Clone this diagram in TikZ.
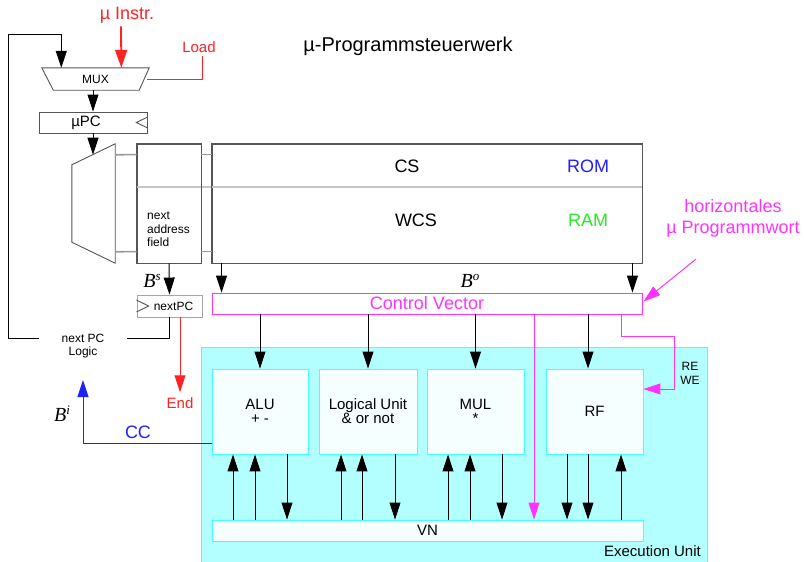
\documentclass[tikz,border=0pt]{standalone}
\usepackage{fontspec}
\setmainfont{Liberation Sans}
\newfontfamily\tms{Liberation Serif}
\usetikzlibrary{arrows.meta,calc}
\definecolor{mag}{HTML}{FF33FF}
\definecolor{cyanfill}{HTML}{B3FFFF}
\definecolor{cyanline}{HTML}{44FFFF}
\definecolor{unitfill}{HTML}{F5FFFF}
\definecolor{ramgreen}{HTML}{22EE22}
\definecolor{ccblue}{HTML}{1F1FFF}
\definecolor{edge}{HTML}{555555}
\definecolor{lred}{HTML}{FF2222}
\newcommand{\Bsym}[1]{{\tms\itshape\fontsize{20}{20}\selectfont B\raisebox{7pt}{\fontsize{13}{13}\selectfont #1}}}
\begin{document}
\begin{tikzpicture}[x=1pt,y=-1pt,
  box/.style={draw=edge,line width=0.9pt,inner sep=0pt,fill=white},
  unit/.style={draw=cyanline,line width=0.9pt,fill=unitfill,inner sep=0pt,minimum height=85pt,font=\fontsize{15}{14}\selectfont,align=center},
  tip/.style={-{Triangle[length=17pt,width=11pt]}},
  arr/.style={line width=1pt,tip},
  ln/.style={line width=0.9pt},
  fT/.style={font=\fontsize{20}{23}\selectfont},
  fA/.style={font=\fontsize{18}{21}\selectfont},
  fB/.style={font=\fontsize{15}{17}\selectfont},
  fC/.style={font=\fontsize{12}{13.5}\selectfont},
  lbl/.style={inner sep=0pt}]
\useasboundingbox (0,0) rectangle (804,562);

% ---------- execution unit ----------
\node[draw=cyanline,fill=cyanfill,line width=0.9pt,minimum width=506pt,minimum height=222pt,inner sep=0pt] (eu) at (454,458) {};
\node[lbl,fB,anchor=east] (eulbl) at (701,551) {Execution Unit};

\node[unit,minimum width=96pt] (alu) at (260,411.5) {ALU\\+ -};
\node[unit,minimum width=98pt] (lu) at (368,411.5) {Logical Unit\\\& or not};
\node[unit,minimum width=97pt] (mul) at (475.5,411.5) {MUL\\*};
\node[unit,minimum width=97pt] (rf) at (594.5,411.5) {RF};
\node[draw=cyanline,fill=unitfill,line width=0.9pt,inner sep=0pt,minimum width=431pt,minimum height=21pt,fB] (vn) at (427.5,530.5) {VN};

% ---------- title ----------
\node[lbl,fT] (title) at (408,46) {µ-Programmsteuerwerk};

% ---------- MUX ----------
\node[lbl,minimum width=107pt,minimum height=22pt,fC] (mux) at (95.5,79) {MUX};
\draw[box,fill=none] (mux.north west) -- (mux.north east) -- ($(mux.south east)+(-10,0)$) -- ($(mux.south west)+(11.5,0)$) -- cycle;
\node[lbl,fA,text=lred] (instr) at (127,15) {µ Instr.};
\node[lbl,fB,text=lred] (load) at (199,47) {Load};
\coordinate (muxin1) at ($(mux.north west)+(19.5,0)$);
\coordinate (muxin2) at ($(mux.north west)+(79.5,0)$);
\coordinate (muxr) at ($(mux.east)+(-2.5,0)$);
\draw[lred,line width=1.8pt,-{Triangle[length=18pt,width=12pt]}] ($(instr.south)+(-6,3)$) -- (muxin2);
\draw[ln,lred] (muxr) -| ($(load.south)+(3,3)$);

% ---------- uPC ----------
\node[box,minimum width=108pt,minimum height=21pt,fB] (upc) at (93,122.5) {\hspace*{-14pt}µPC};
\draw[ln,edge] ($(upc.north east)+(0,5.5)$) -- ($(upc.east)+(-11,0)$) -- ($(upc.south east)+(0,-5.5)$);
\draw[arr] (mux.south -| upc.north) -- (upc.north);

% ---------- decoder, next address field, CS ----------
\node[lbl,minimum width=43pt,minimum height=119pt] (dec) at (93.5,203.5) {};
\draw[box,fill=none] ($(dec.north west)+(0,21)$) -- (dec.north east) -- (dec.south east) -- ($(dec.south west)+(0,-21)$) -- cycle;
\coordinate (decin) at (93,154.7);
\draw[arr] (upc.south) -- (decin);

\node[box,minimum width=64pt,minimum height=119pt] (naf) at (169,203.5) {};
\node[box,minimum width=430pt,minimum height=119pt] (cs) at (427,203.5) {};
\draw[gray!45,line width=1.4pt] ($(naf.west)+(0,-16.5)$) -- ($(cs.east)+(0,-16.5)$);
\draw[box,fill=none] (naf.north west) rectangle (naf.south east);
\draw[box,fill=none] (cs.north west) rectangle (cs.south east);
\foreach \dy in {11,108}{
  \draw[gray!80,line width=1.6pt] ($(dec.north east)+(0,\dy)$) -- ($(naf.north west)+(0,\dy)$);
  \draw[gray!80,line width=1.6pt] ($(naf.north east)+(0,\dy)$) -- ($(cs.north west)+(0,\dy)$);
}
\node[lbl,fC,align=left,anchor=north west] (naftxt) at (147,212) {next\\address\\field};
\node[lbl,fA] (cstxt) at (407,166) {CS};
\node[lbl,fA] (wcstxt) at (416,220) {WCS};
\node[lbl,fA,text=ccblue] (rom) at (588,166) {ROM};
\node[lbl,fA,text=ramgreen] (ram) at (588,220) {RAM};

% ---------- control vector ----------
\node[draw=mag,line width=0.9pt,inner sep=0pt,minimum width=430pt,minimum height=21pt,fill=white,fA,text=mag] (cv) at (427,303.5) {Control Vector};
\node[lbl] (bo) at (470,281) {\Bsym{o}};
\draw[arr] ($(cs.south west)+(10,0)$) -- ($(cv.north west)+(10,0)$);
\draw[arr] ($(cs.south east)+(-10,0)$) -- ($(cv.north east)+(-10,0)$);

\node[lbl,fA,text=mag,align=center] (horiz) at (733,218) {horizontales\\µ Programmwort};
\draw[line width=1pt,mag,tip] ($(horiz.south)+(-37,22)$) -- ($(cv.east)+(1,-2)$);

% control lines to units
\draw[arr] (cv.south -| alu.north) -- (alu.north);
\draw[arr] (cv.south -| lu.north) -- (lu.north);
\draw[arr] (cv.south -| mul.north) -- (mul.north);
\draw[arr] ($(cv.south -| rf.north)+(-6.5,0)$) -- ($(rf.north)+(-6.5,0)$);
\coordinate (magx) at (534,0);
\draw[line width=1pt,mag,tip] (cv.south -| magx) -- (vn.north -| magx);
\coordinate (rewx) at (621,0);
\draw[line width=1pt,mag,tip] (cv.south -| rewx) -- (621,336) -- (674,336) -- (674,389) -- (rf.east |- 0,389);
\node[lbl,fC,align=center] (rewe) at (690,373.5) {RE\\WE};

% ---------- unit <-> VN arrows ----------
\foreach \x in {233,255}{ \draw[arr] (vn.north -| \x,0) -- (alu.south -| \x,0); }
\draw[arr] (alu.south -| 287,0) -- (vn.north -| 287,0);
\foreach \x in {341,362}{ \draw[arr] (vn.north -| \x,0) -- (lu.south -| \x,0); }
\draw[arr] (lu.south -| 395,0) -- (vn.north -| 395,0);
\foreach \x in {448,470}{ \draw[arr] (vn.north -| \x,0) -- (mul.south -| \x,0); }
\draw[arr] (mul.south -| 502,0) -- (vn.north -| 502,0);
\foreach \x in {567,588}{ \draw[arr] (rf.south -| \x,0) -- (vn.north -| \x,0); }
\draw[arr] (vn.north -| 621,0) -- (rf.south -| 621,0);

% ---------- nextPC ----------
\node[draw=gray!70,line width=0.9pt,inner sep=0pt,minimum width=65pt,minimum height=22pt,fill=white,fC] (npc) at (169.5,306) {\hspace*{8pt}nextPC};
\draw[ln,edge] ($(npc.north west)+(0,5.5)$) -- ($(npc.west)+(12,0)$) -- ($(npc.south west)+(0,-5.5)$);
\node[lbl] (bs) at (152,281) {\Bsym{s}};
\draw[arr] (naf.south) -- (npc.north);

\node[lbl,fC,align=center] (npl) at (83,346) {next PC\\Logic};
\coordinate (fbA) at (127,338);
\coordinate (fbB) at (39,338);
\draw[ln] ($(npc.south)+(-0.5,0)$) |- (fbA);
\draw[arr] (fbB) -- (8,338) -- (8,34) -| (muxin1);

\node[lbl,fB,text=lred] (endt) at (180,403) {End};
\draw[arr,lred] ($(npc.south)+(10.5,0)$) -- ($(endt.north)+(0,-5)$);

% ---------- CC ----------
\node[lbl,fA,text=ccblue] (cc) at (138,432) {CC};
\node[lbl] (bi) at (62,414) {\Bsym{i}};
\draw[line width=1pt,ccblue,tip] (alu.west |- 0,443) -| (83,380);
\end{tikzpicture}
\end{document}
